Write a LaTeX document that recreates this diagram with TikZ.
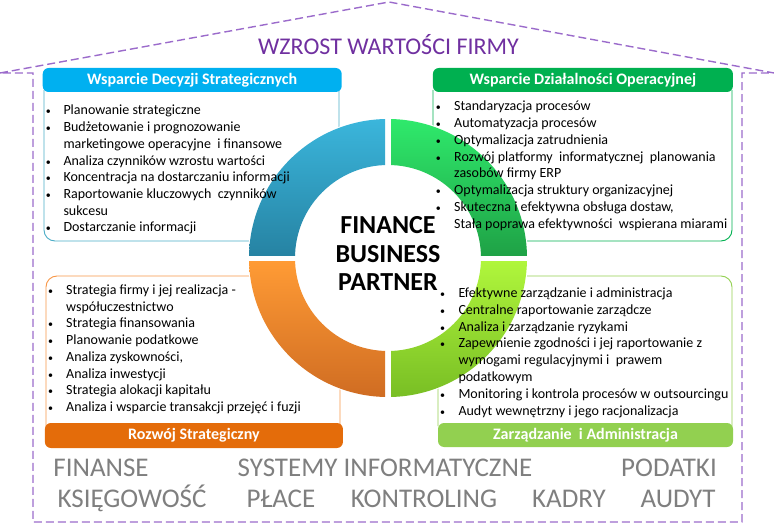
\documentclass[tikz,border=0pt]{standalone}
\usepackage{fontspec}
\setmainfont{Carlito}
\definecolor{roofc}{HTML}{9B6BCB}
\definecolor{titlec}{HTML}{7030A0}
\definecolor{hblue}{HTML}{00B0F0}
\definecolor{hgreen}{HTML}{00B050}
\definecolor{horange}{HTML}{E46C0A}
\definecolor{hlime}{HTML}{92D050}
\definecolor{lblue}{HTML}{4BACC6}
\definecolor{lgreen}{HTML}{00B050}
\definecolor{lorange}{HTML}{F79646}
\definecolor{llime}{HTML}{92D050}
\definecolor{graytxt}{HTML}{7F7F7F}
\definecolor{qblueT}{HTML}{3BB6DC}
\definecolor{qblueB}{HTML}{2683A3}
\definecolor{qgreenT}{HTML}{2FEA6C}
\definecolor{qgreenB}{HTML}{1FA246}
\definecolor{qorangeT}{HTML}{FF9B35}
\definecolor{qorangeB}{HTML}{CF6C22}
\definecolor{qlimeT}{HTML}{B0F63C}
\definecolor{qlimeB}{HTML}{78BE24}
\begin{document}
\begin{tikzpicture}[x=1pt,y=-1pt,
  roofline/.style={draw=roofc, line width=1.4pt, dash pattern=on 8pt off 4pt},
  hdrbox/.style={rounded corners=6pt, text=white, inner sep=0pt,
    font=\fontsize{16}{18}\selectfont\bfseries},
  bodyline/.style={line width=0.9pt, rounded corners=11pt},
  item/.style={font=\fontsize{14}{16}\selectfont, anchor=base west, inner sep=0pt, text=black},
  bul/.style={font=\fontsize{10}{12}\selectfont, anchor=base, inner sep=0pt, text=black},
  bigword/.style={font=\fontsize{27}{30}\selectfont, text=graytxt, anchor=base, inner sep=0pt}]
\useasboundingbox (0,0) rectangle (774,532);

% house outline
\draw[roofline] (0,73) -- (389,2) -- (774,73) -- (742,73) -- (742,522) -- (33,522) -- (33,73) -- cycle;

% title
\node[font=\fontsize{24}{28}\selectfont, text=titlec, anchor=base, inner sep=0pt] (title) at (388.5,55) {WZROST WARTOŚCI FIRMY};

% box bodies
\draw[bodyline, draw=lblue] (44,90) -- (44,241) -- (339,241) -- (339,90);
\draw[bodyline, draw=lgreen] (433,90) -- (433,241) -- (732,241) -- (732,90);
\draw[bodyline, draw=lorange] (46,426) -- (46,276) -- (340,276) -- (340,426);
\draw[bodyline, draw=llime] (438,426) -- (438,276) -- (732,276) -- (732,426);

% headers / footers
\node[hdrbox, fill=hblue, minimum width=299pt, minimum height=24pt] (h1) at (192.2,80) {Wsparcie Decyzji Strategicznych};
\node[hdrbox, fill=hgreen, minimum width=300pt, minimum height=24pt] (h2) at (582.9,80) {Wsparcie Działalności Operacyjnej};
\node[hdrbox, fill=horange, minimum width=298pt, minimum height=25pt] (h3) at (193.9,435.5) {Rozwój Strategiczny};
\node[hdrbox, fill=hlime, minimum width=295pt, minimum height=24pt] (h4) at (585.5,435) {Zarządzanie\ \ i Administracja};

% ring
\coordinate (c) at (388,258);
\fill[white] (c) circle[radius=140];
\begin{scope}[even odd rule]
  \clip (c) circle[radius=139] (c) circle[radius=93];
  \shade[top color=qblueT, bottom color=qblueB] (248,118) rectangle (385,255);
  \shade[top color=qgreenT, bottom color=qgreenB] (391,118) rectangle (528,255);
  \shade[top color=qorangeT, bottom color=qorangeB] (248,261) rectangle (385,398);
  \shade[top color=qlimeT, bottom color=qlimeB] (391,261) rectangle (528,398);
\end{scope}

\node[font=\fontsize{26}{28.5}\selectfont\bfseries, align=center, inner sep=0pt] (fbp) at (388,253.5) {FINANCE\\BUSINESS\\PARTNER};

% lists
\foreach \b/\t [count=\i] in {1/{Planowanie strategiczne}, 1/{Budżetowanie i prognozowanie}, 0/{marketingowe operacyjne\ \ i finansowe}, 1/{Analiza czynników wzrostu wartości}, 1/{Koncentracja na dostarczaniu informacji}, 1/{Raportowanie kluczowych\ \ czynników}, 0/{sukcesu}, 1/{Dostarczanie informacji}}{
  \node[item] (tl\i) at (63.3,{115+(\i-1)*16.7}) {\t};
  \ifnum\b=1 \node[bul] (tlb\i) at (48.3,{115+(\i-1)*16.7}) {\textbullet};\fi
}
\foreach \b/\t [count=\i] in {1/{Standaryzacja procesów}, 1/{Automatyzacja procesów}, 1/{Optymalizacja zatrudnienia}, 1/{Rozwój platformy\ \ informatycznej\ \ planowania}, 0/{zasobów firmy ERP}, 1/{Optymalizacja struktury organizacyjnej}, 1/{Skuteczna i efektywna obsługa dostaw,}, 0/{Stała poprawa efektywności\ \ wspierana miarami}}{
  \node[item] (tr\i) at (454,{110.7+(\i-1)*16.8}) {\t};
  \ifnum\b=1 \node[bul] (trb\i) at (438.3,{110.7+(\i-1)*16.8}) {\textbullet};\fi
}
\foreach \b/\t [count=\i] in {1/{Strategia firmy i jej realizacja -}, 0/{współuczestnictwo}, 1/{Strategia finansowania}, 1/{Planowanie podatkowe}, 1/{Analiza zyskowności,}, 1/{Analiza inwestycji}, 1/{Strategia alokacji kapitału}, 1/{Analiza i wsparcie transakcji przejęć i fuzji}}{
  \node[item] (bl\i) at (66,{294.3+(\i-1)*16.77}) {\t};
  \ifnum\b=1 \node[bul] (blb\i) at (50.7,{294.3+(\i-1)*16.77}) {\textbullet};\fi
}
\foreach \b/\t [count=\i] in {1/{Efektywne zarządzanie i administracja}, 1/{Centralne raportowanie zarządcze}, 1/{Analiza i zarządzanie ryzykami}, 1/{Zapewnienie zgodności i jej raportowanie z}, 0/{wymogami regulacyjnymi i\ \ prawem}, 0/{podatkowym}, 1/{Monitoring i kontrola procesów w outsourcingu}, 1/{Audyt wewnętrzny i jego racjonalizacja}}{
  \node[item] (br\i) at (458.3,{297.7+(\i-1)*16.76}) {\t};
  \ifnum\b=1 \node[bul] (brb\i) at (442.7,{297.7+(\i-1)*16.76}) {\textbullet};\fi
}

% bottom words
\node[bigword] (w1) at (101,476) {FINANSE};
\node[bigword] (w2) at (385,476) {SYSTEMY INFORMATYCZNE};
\node[bigword] (w3) at (669,476) {PODATKI};
\node[bigword] (w4) at (132,507) {KSIĘGOWOŚĆ};
\node[bigword] (w5) at (281,507) {PŁACE};
\node[bigword] (w6) at (424,507) {KONTROLING};
\node[bigword] (w7) at (569,507) {KADRY};
\node[bigword] (w8) at (678,507) {AUDYT};
\end{tikzpicture}
\end{document}
